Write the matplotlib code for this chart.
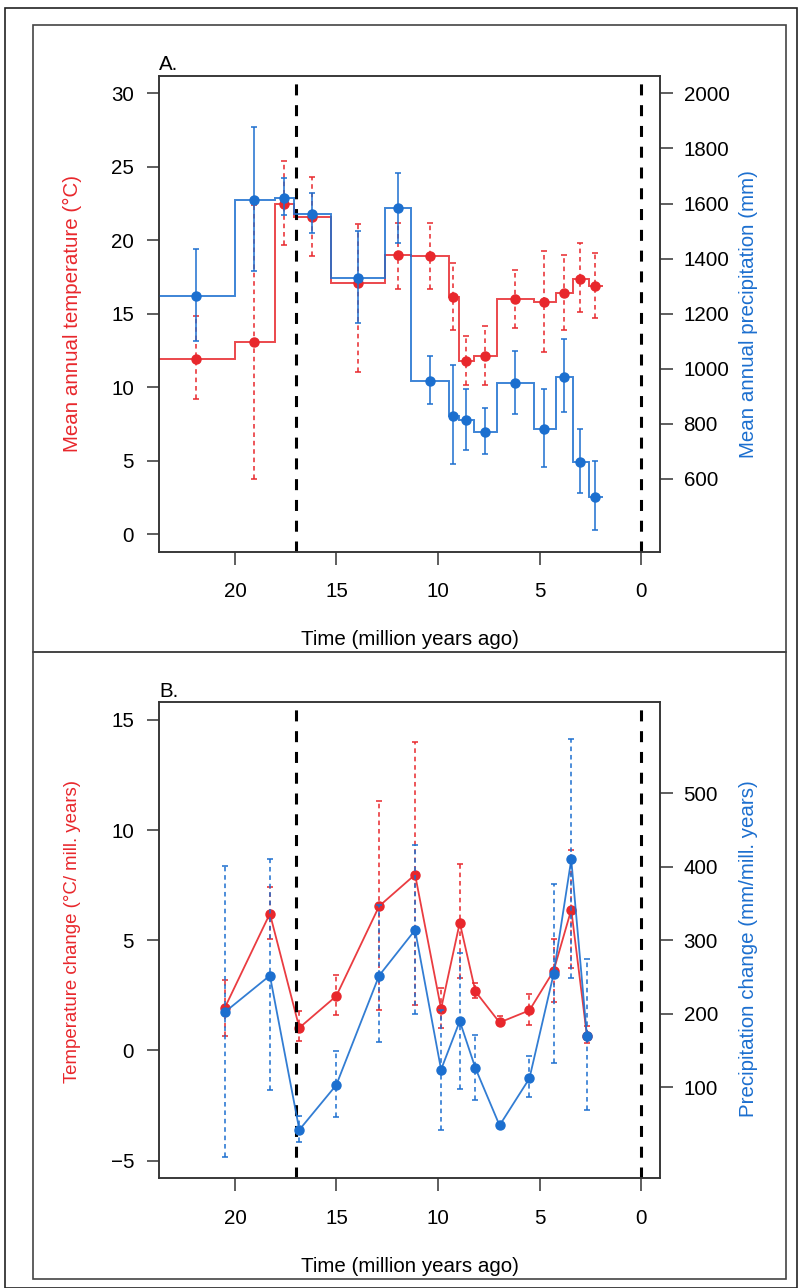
import numpy as np
import matplotlib.pyplot as plt

plt.rcParams['font.family'] = ['Liberation Sans', 'DejaVu Sans']

red = '#E8272C'
blue = '#1C6FCF'
fs = 14.8

# --- panel A: mean annual values in time bins (million years ago) ---
bin_edges = [23.8, 20.0, 18.05, 17.08, 15.29, 12.59, 11.32, 9.47, 8.98, 8.21, 7.09, 5.29, 4.19, 3.37, 2.59, 1.90]
time_a = [21.9, 19.05, 17.57, 16.2, 13.95, 11.97, 10.4, 9.27, 8.62, 7.67, 6.22, 4.76, 3.8, 3.01, 2.28]

temp = [11.95, 13.04, 22.45, 21.56, 17.06, 18.97, 18.9, 16.11, 11.77, 12.11, 15.97, 15.77, 16.38, 17.38, 16.88]
temp_hi = [14.83, 22.4, 25.38, 24.29, 21.08, 21.2, 21.17, 18.47, 13.47, 14.13, 18.0, 19.26, 18.99, 19.81, 19.15]
temp_lo = [9.22, 3.77, 19.65, 18.9, 11.0, 16.65, 16.65, 13.86, 10.16, 10.16, 14.04, 12.38, 13.86, 15.09, 14.7]

prec = [1266, 1614, 1621, 1562, 1331, 1583, 955, 830, 815, 772, 948, 782, 972, 660, 536]
prec_hi = [1435, 1877, 1692, 1638, 1500, 1709, 1045, 1012, 928, 859, 1064, 926, 1107, 780, 665]
prec_lo = [1100, 1356, 1557, 1493, 1165, 1458, 873, 653, 705, 689, 837, 645, 844, 548, 415]

# --- panel B: rates of change ---
time_b = [20.51, 18.28, 16.83, 15.01, 12.9, 11.13, 9.85, 8.93, 8.16, 6.97, 5.5, 4.31, 3.44, 2.67]

dtemp = [1.92, 6.21, 1.03, 2.47, 6.55, 7.98, 1.89, 5.8, 2.68, 1.27, 1.82, 3.61, 6.39, 0.68]
dtemp_hi = [3.21, 7.42, 1.8, 3.41, 11.33, 14.01, 2.85, 8.44, 3.06, 1.55, 2.58, 5.08, 9.09, 1.09]
dtemp_lo = [0.67, 5.06, 0.41, 1.59, 1.85, 2.08, 1.01, 3.29, 2.38, 1.14, 1.14, 2.2, 3.74, 0.33]

dprec = [202, 252, 42, 103, 252, 314, 124, 190, 126, 48, 112, 254, 410, 170]
dprec_hi = [401, 411, 61, 149, 348, 430, 205, 283, 171, 50, 142, 376, 574, 275]
dprec_lo = [5, 96, 25, 60, 161, 200, 42, 98, 83, 46, 86, 133, 249, 69]

events = [17, 0]


def errs(v, lo, hi):
    v = np.array(v)
    return [v - np.array(lo), np.array(hi) - v]


fig = plt.figure(figsize=(8, 12.88), dpi=100)
H = 1288.0

# outer and panel frames
fig.add_artist(plt.Rectangle((5 / 800, 0), 792 / 800, 1 - 8 / H, transform=fig.transFigure,
                             fill=False, lw=1.2, ec='#222222'))
for top, bot in [(25, 652), (652, 1279)]:
    fig.add_artist(plt.Rectangle((33 / 800, 1 - bot / H), 753 / 800, (bot - top) / H,
                                 transform=fig.transFigure, fill=False, lw=1.2, ec='#444444'))

axA = fig.add_axes([159 / 800, 1 - 551.7 / H, 501 / 800, 476 / H])
axB = fig.add_axes([159 / 800, 1 - 1178.3 / H, 501 / 800, 476 / H])


def style(ax, right=False):
    for s in ax.spines.values():
        s.set_linewidth(1.1)
        s.set_color('#333333')
    ax.tick_params(direction='out', length=9, width=1.1, labelsize=fs, color='#333333')
    ax.tick_params(axis='y', pad=9 if not right else 8)
    ax.tick_params(axis='x', pad=13)


# panel A
ebA = dict(fmt='none', capsize=2.2, elinewidth=1.1, capthick=1.1)
axA.stairs(temp[::-1], bin_edges[::-1], baseline=None, color=red, lw=1.4, alpha=0.85)
eb = axA.errorbar(time_a, temp, yerr=errs(temp, temp_lo, temp_hi), ecolor=red, **ebA)
eb[2][0].set_linestyle((0, (3, 2.5)))
axA.plot(time_a, temp, 'o', color=red, ms=6.5)
for x in events:
    axA.axvline(x, color='black', lw=2.2, ls=(0, (3.6, 3.2)))
axA.set_xlim(23.74, -0.93)
axA.set_ylim(-1.2, 31.2)
axA.set_yticks([0, 5, 10, 15, 20, 25, 30])
axA.set_xticks([20, 15, 10, 5, 0])
axA.set_ylabel('Mean annual temperature (°C)', color=red, fontsize=fs)
axA.yaxis.set_label_coords(-0.172, 0.5)
axA.yaxis.label.set_va('center')
axA.set_xlabel('Time (million years ago)', fontsize=fs)
axA.xaxis.set_label_coords(0.5, -0.185)
axA.xaxis.label.set_va('center')
style(axA)

axA2 = axA.twinx()
axA2.stairs(prec[::-1], bin_edges[::-1], baseline=None, color=blue, lw=1.4, alpha=0.85)
axA2.errorbar(time_a, prec, yerr=errs(prec, prec_lo, prec_hi), ecolor=blue, **ebA)
axA2.plot(time_a, prec, 'o', color=blue, ms=6.5)
axA2.set_ylim(336, 2064)
axA2.set_yticks(np.arange(600, 2001, 200))
axA2.set_ylabel('Mean annual precipitation (mm)', color=blue, fontsize=fs)
axA2.yaxis.set_label_coords(1.176, 0.5)
axA2.yaxis.label.set_va('center')
axA2.yaxis.label.set_rotation(90)
style(axA2, right=True)

# panel B
axB.plot(time_b, dtemp, '-', color=red, lw=1.3, alpha=0.9)
eb = axB.errorbar(time_b, dtemp, yerr=errs(dtemp, dtemp_lo, dtemp_hi), ecolor=red, **ebA)
eb[2][0].set_linestyle((0, (3, 2.5)))
axB.plot(time_b, dtemp, 'o', color=red, ms=6.5)
for x in events:
    axB.axvline(x, color='black', lw=2.2, ls=(0, (3.6, 3.2)))
axB.set_xlim(23.74, -0.93)
axB.set_ylim(-5.8, 15.8)
axB.set_yticks([-5, 0, 5, 10, 15])
axB.set_xticks([20, 15, 10, 5, 0])
axB.set_ylabel('Temperature change (°C/ mill. years)', color=red, fontsize=13.4)
axB.yaxis.set_label_coords(-0.172, 0.518)
axB.yaxis.label.set_va('center')
axB.set_xlabel('Time (million years ago)', fontsize=fs)
axB.xaxis.set_label_coords(0.5, -0.186)
axB.xaxis.label.set_va('center')
style(axB)

axB2 = axB.twinx()
axB2.plot(time_b, dprec, '-', color=blue, lw=1.3, alpha=0.9)
eb = axB2.errorbar(time_b, dprec, yerr=errs(dprec, dprec_lo, dprec_hi), ecolor=blue, **ebA)
eb[2][0].set_linestyle((0, (3, 2.5)))
axB2.plot(time_b, dprec, 'o', color=blue, ms=6.5)
axB2.set_ylim(-24, 624)
axB2.set_yticks([100, 200, 300, 400, 500])
axB2.set_ylabel('Precipitation change (mm/mill. years)', color=blue, fontsize=fs)
axB2.yaxis.set_label_coords(1.176, 0.482)
axB2.yaxis.label.set_va('center')
style(axB2, right=True)

fig.text(159 / 800, 1 - 70 / H, 'A.', fontsize=fs)
fig.text(159 / 800, 1 - 697 / H, 'B.', fontsize=fs)

fig.savefig('out.png', dpi=100)
